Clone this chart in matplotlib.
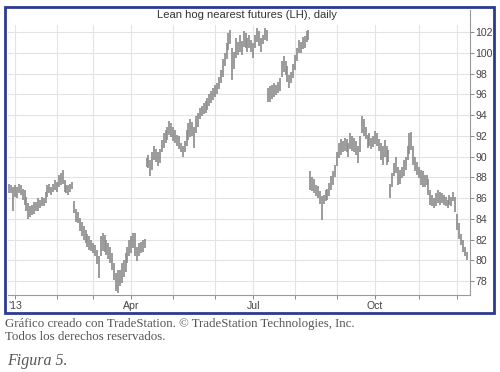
import numpy as np
import pandas as pd
import matplotlib
matplotlib.use("Agg")
import matplotlib.pyplot as plt
from matplotlib.patches import Rectangle
from matplotlib.lines import Line2D

# ---------------- data ----------------
title = "Lean hog nearest futures (LH), daily"
start_date = "2012-12-27"
holidays = ["2013-01-01", "2013-02-18", "2013-03-29", "2013-05-27",
            "2013-07-04", "2013-09-02", "2013-11-28"]

highs = [
    # Feb contract
    87.4, 87.3, 87.1, 87.3, 87.1, 87.4, 87.3, 86.9, 86.8, 86.1,
    85.5, 85.2, 85.3, 85.6, 85.6, 86.0, 85.8, 86.1, 86.0, 86.6,
    87.3, 87.4, 87.1, 87.4, 87.7, 87.6, 88.2, 88.4, 88.7, 87.7,
    87.3, 87.3, 87.4, 87.6,
    # Apr contract
    85.7, 84.9, 84.7, 84.1, 83.7, 83.3, 82.9, 82.5, 82.3, 82.0,
    81.7, 81.5, 81.0, 80.4, 82.3, 82.6, 82.4, 82.0, 81.7, 81.3,
    80.7, 79.7, 78.8, 79.1, 79.1, 79.7, 80.0, 80.7, 81.3, 82.0,
    82.3, 82.6, 82.6, 81.3, 81.7, 81.8, 82.0, 82.1,
    # Jun contract
    89.9, 90.2, 89.7, 90.4, 91.0, 90.7, 90.4, 90.7, 91.6, 92.3,
    92.6, 92.9, 93.4, 93.2, 92.9, 92.6, 92.1, 92.0, 91.3, 91.0,
    91.5, 92.6, 93.2, 93.6, 93.3, 92.9, 93.9, 94.2, 94.7, 94.9,
    95.2, 95.4, 95.7, 96.0, 96.3, 96.6, 96.9, 97.1, 97.7, 98.4,
    99.4, 100.0, 101.0, 101.9, 102.2, 100.5, 100.1, 101.4, 101.1, 101.7,
    101.2, 102.1, 101.9, 101.4, 101.7, 101.3, 101.0, 101.7, 102.4, 102.1,
    101.4, 101.7, 102.4, 102.2,
    # Jul/Aug contract
    96.6, 96.8, 96.9, 97.1, 96.9, 97.2, 97.6, 99.2, 99.7, 99.2,
    98.7, 97.9, 98.2, 98.9, 99.8, 100.5, 101.3, 101.1, 101.5, 101.6,
    102.1, 102.2,
    # Oct contract
    88.6, 88.0, 87.8, 87.3, 87.2, 86.7, 86.2, 86.3, 86.8, 86.9,
    87.5, 88.1, 88.6, 89.2, 90.4, 91.3, 91.7, 91.5, 91.8, 91.7,
    91.3, 92.3, 92.0, 91.8, 91.5, 91.0, 92.0, 93.9, 93.6, 92.9,
    92.1, 92.3, 91.8, 92.0, 92.5, 92.3, 91.7, 91.3, 91.0, 91.6,
    91.0, 90.6,
    # Dec contract
    87.4, 88.4, 89.4, 90.0, 89.0, 88.7, 89.0, 89.7, 90.0, 91.0,
    92.3, 92.4, 91.0, 90.0, 89.5, 89.0, 88.7, 88.6, 88.2, 88.2,
    87.8, 86.8, 86.3, 86.0, 86.5, 86.8, 86.6, 86.5, 86.3, 86.1,
    85.8, 86.3, 86.1, 86.6, 86.1, 84.5, 83.6, 82.5, 82.0, 81.3,
    80.8,
]

lows = [
    86.5, 86.5, 84.8, 86.1, 86.0, 86.5, 86.3, 85.8, 85.3, 84.8,
    84.0, 84.2, 84.4, 84.5, 84.8, 84.8, 85.0, 85.2, 85.2, 85.5,
    86.1, 86.5, 86.3, 86.6, 86.8, 86.6, 87.1, 87.3, 87.4, 86.6,
    86.5, 86.3, 86.6, 86.9,
    84.6, 83.7, 83.6, 82.8, 82.3, 82.0, 81.7, 81.3, 81.0, 80.9,
    80.7, 80.4, 79.6, 78.3, 80.4, 80.9, 80.8, 80.5, 80.1, 79.7,
    79.1, 78.1, 77.0, 76.8, 77.5, 77.8, 78.4, 78.9, 79.7, 80.4,
    80.7, 81.2, 80.4, 79.9, 80.4, 80.7, 80.8, 81.2,
    89.0, 88.9, 88.1, 88.7, 89.7, 89.5, 89.1, 89.4, 90.4, 90.8,
    91.3, 91.6, 92.1, 91.9, 91.5, 91.3, 91.0, 90.7, 90.4, 90.0,
    90.4, 91.0, 91.6, 91.9, 92.0, 90.8, 92.3, 92.9, 93.6, 93.9,
    94.1, 94.2, 94.5, 94.9, 95.2, 95.5, 95.8, 96.0, 96.5, 97.1,
    97.7, 98.7, 99.4, 100.3, 100.9, 97.4, 98.5, 99.5, 99.8, 100.1,
    99.8, 100.6, 100.5, 100.1, 100.5, 100.1, 99.5, 100.5, 101.1, 100.7,
    100.1, 100.9, 101.3, 101.2,
    95.3, 95.3, 95.6, 95.8, 95.9, 96.1, 96.3, 97.7, 98.2, 97.9,
    97.2, 96.6, 97.1, 97.6, 98.4, 99.2, 100.0, 100.0, 100.4, 100.5,
    101.1, 101.3,
    86.8, 86.7, 86.5, 86.2, 86.0, 85.4, 83.9, 85.4, 85.7, 85.8,
    86.2, 86.8, 87.3, 88.0, 89.1, 89.9, 90.2, 90.4, 90.5, 90.4,
    90.0, 90.7, 90.5, 90.4, 90.2, 89.4, 90.4, 92.3, 92.0, 91.7,
    90.8, 91.0, 90.7, 90.9, 91.2, 91.0, 90.5, 89.7, 89.2, 90.0,
    89.2, 89.5,
    86.0, 87.1, 88.1, 88.4, 87.3, 87.4, 87.9, 88.1, 88.7, 89.7,
    90.3, 90.6, 89.2, 88.6, 88.2, 87.9, 87.3, 87.1, 87.1, 87.3,
    86.3, 85.3, 85.2, 85.0, 85.2, 85.5, 85.3, 85.5, 85.3, 85.2,
    85.0, 85.3, 85.2, 85.7, 84.7, 82.9, 82.1, 81.5, 80.8, 80.4,
    80.0,
]

y_ticks = [78, 80, 82, 84, 86, 88, 90, 92, 94, 96, 98, 100, 102]
month_labels = {1: "'13", 4: "Apr", 7: "Jul", 10: "Oct"}

caption1 = "Gráfico creado con TradeStation. © TradeStation Technologies, Inc."
caption2 = "Todos los derechos reservados."
figure_label = "Figura 5."

# ---------------- derived ----------------
n = len(highs)
dates = pd.bdate_range(start=start_date, periods=n, freq="C", holidays=holidays)
xpos = np.arange(n)
month_idx = [i for i in range(1, n) if dates[i].month != dates[i - 1].month]
month_lab = [month_labels.get(dates[i].month, "") for i in month_idx]

# ---------------- figure ----------------
W, H = 500, 372
fig = plt.figure(figsize=(W / 100, H / 100), dpi=100)
fig.patch.set_facecolor("white")

ax_left, ax_right, ax_top, ax_bottom = 8, 470, 25, 295
ax = fig.add_axes([ax_left / W, (H - ax_bottom) / H,
                   (ax_right - ax_left) / W, (ax_bottom - ax_top) / H])

ax.vlines(xpos, lows, highs, color="#8a8a8a", lw=1.2)

ax.set_xlim(-0.7, 241.8)
ax.set_ylim(76.65, 102.7)

ax.yaxis.tick_right()
ax.set_yticks(y_ticks)
ax.set_yticklabels([str(v) for v in y_ticks])
ax.set_xticks(month_idx)
ax.set_xticklabels(month_lab)

ax.tick_params(axis="y", which="both", direction="out", length=3, width=0.7,
               color="#8a8a8a", labelsize=7.6, labelcolor="#444444", pad=1)
ax.tick_params(axis="x", which="both", direction="out", length=3, width=0.7,
               color="#8a8a8a", labelsize=7.6, labelcolor="#444444", pad=1.5)

for lab in ax.get_xticklabels() + ax.get_yticklabels():
    lab.set_family("Liberation Sans")

for s in ["left", "top"]:
    ax.spines[s].set_visible(False)
for s in ["right", "bottom"]:
    ax.spines[s].set_color("#9a9a9a")
    ax.spines[s].set_linewidth(0.8)

ax.grid(True, color="#e3e3e3", lw=0.8)
ax.set_axisbelow(True)

# right axis line continues up to the top of the frame
fig.lines.append(Line2D([ax_right / W, ax_right / W],
                        [(H - ax_top) / H, (H - 10) / H],
                        transform=fig.transFigure, color="#9a9a9a", lw=0.8))

# title
fig.text(246.5 / W, (H - 15) / H, title, ha="center", va="center",
         fontsize=8.1, color="#333333", family="Liberation Sans")

# blue frame
fig.patches.append(Rectangle((5 / W, (H - 313) / H), 489 / W, 306 / H,
                             transform=fig.transFigure, fill=False,
                             ec="#2b3a92", lw=2.0))

# captions
fig.text(5 / W, (H - 323.5) / H, caption1, ha="left", va="center",
         fontsize=9.3, color="#555555", family="Liberation Serif")
fig.text(5 / W, (H - 337.5) / H, caption2, ha="left", va="center",
         fontsize=9.3, color="#555555", family="Liberation Serif")
fig.text(7 / W, (H - 361) / H, figure_label, ha="left", va="center",
         fontsize=11.5, color="#555555", family="Liberation Serif",
         style="italic")

fig.savefig("out.png", dpi=100)
